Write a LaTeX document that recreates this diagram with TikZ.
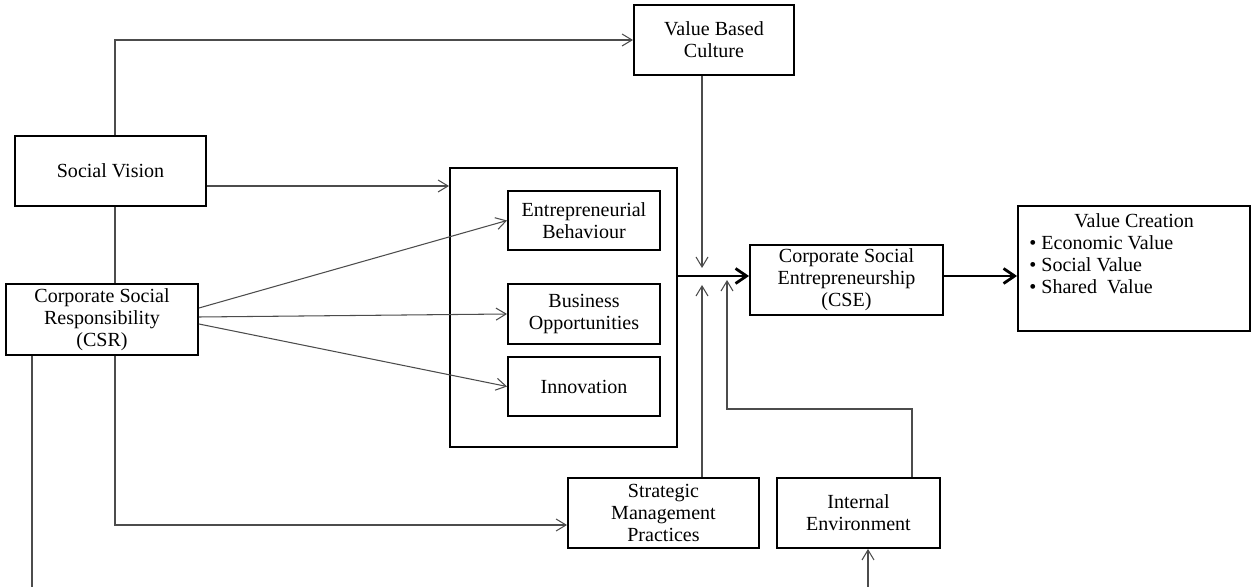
\documentclass[tikz,border=0pt]{standalone}
\usepackage{fontspec}
\setmainfont{Liberation Serif}
\usetikzlibrary{arrows.meta}

\begin{document}
\begin{tikzpicture}[x=0.02cm,y=-0.02cm,font=\fontsize{11.4}{12.6}\selectfont,
    box/.style={draw,line width=1.1pt,align=center,inner sep=1pt},
    plain/.style={draw=black!70,line width=0.6pt},
    link/.style={plain,-{Straight Barb[length=2mm,width=2.4mm]}},
    main/.style={line width=1.6pt,-{Straight Barb[length=2.2mm,width=3mm]}}]
    \useasboundingbox (0,0) rectangle (1252,587);

    \node[box,minimum width=3.82cm,minimum height=1.4cm] (sv) at (110.5,171) {Social Vision};
    \node[box,minimum width=3.84cm,minimum height=1.42cm] (csr) at (102,319.5) {Corporate Social\\Responsibility\\(CSR)};
    \node[box,minimum width=3.2cm,minimum height=1.4cm] (vbc) at (714,40) {Value Based\\Culture};
    \node[box,minimum width=4.54cm,minimum height=5.58cm] (grp) at (563.5,307.5) {};
    \node[box,minimum width=3.04cm,minimum height=1.18cm] (eb) at (584,220.5) {Entrepreneurial\\Behaviour};
    \node[box,minimum width=3.04cm,minimum height=1.2cm] (bo) at (584,314) {Business\\Opportunities};
    \node[box,minimum width=3.04cm,minimum height=1.18cm] (inn) at (584,386.5) {Innovation};
    \node[box,minimum width=3.82cm,minimum height=1.4cm] (smp) at (663.5,513) {Strategic\\Management\\Practices};
    \node[box,minimum width=3.26cm,minimum height=1.4cm] (ie) at (858.5,513) {Internal\\Environment};
    \node[box,minimum width=3.86cm,minimum height=1.4cm] (cse) at (846.5,280) {Corporate Social\\Entrepreneurship\\(CSE)};
    \node[box,minimum width=4.64cm,minimum height=2.5cm] (vc) at (1134,268.5) {};
    \node[anchor=north west,align=left,inner sep=0pt] (vclist) at ([xshift=0.24cm,yshift=-0.16cm]vc.north west)
        {\hspace*{0.9cm}Value Creation\\\textbullet\ Economic Value\\\textbullet\ Social Value\\\textbullet\ Shared\ \ Value};

    \coordinate (j) at (702,276);
    \coordinate (k) at (727,409);
    \coordinate (out) at (32,587);
    \coordinate (in) at (868,587);

    % social vision
    \draw[link] ([xshift=0.09cm]sv.north) |- (vbc.west);
    \draw[link] ([yshift=-0.3cm]sv.east) -- ([yshift=-0.3cm]sv.east -| grp.west);
    \draw[plain] ([xshift=0.09cm]sv.south) -- ([xshift=0.09cm]sv.south |- csr.north);

    % csr
    \draw[link] ([yshift=0.23cm]csr.east) -- (eb.west);
    \draw[link] ([yshift=0.05cm]csr.east) -- (bo.west);
    \draw[link] ([yshift=-0.09cm]csr.east) -- (inn.west);
    \draw[link] ([xshift=0.26cm]csr.south) |- ([yshift=-0.24cm]smp.west);
    \draw[plain] (csr.south -| out) -- (out);

    % into cse
    \draw[main] (j -| grp.east) -- (j -| cse.west);
    \draw[link] (vbc.south -| j) -- ([yshift=0.16cm]j);
    \draw[link] (smp.north -| j) -- ([yshift=-0.18cm]j);
    \draw[link] ([xshift=1.07cm]ie.north) |- (k) -- ([yshift=-0.08cm]k |- j);
    \draw[link] (in) -- (in |- ie.south);
    \draw[main] ([yshift=0.08cm]cse.east) -- ([yshift=0.08cm]cse.east -| vc.west);
\end{tikzpicture}
\end{document}
